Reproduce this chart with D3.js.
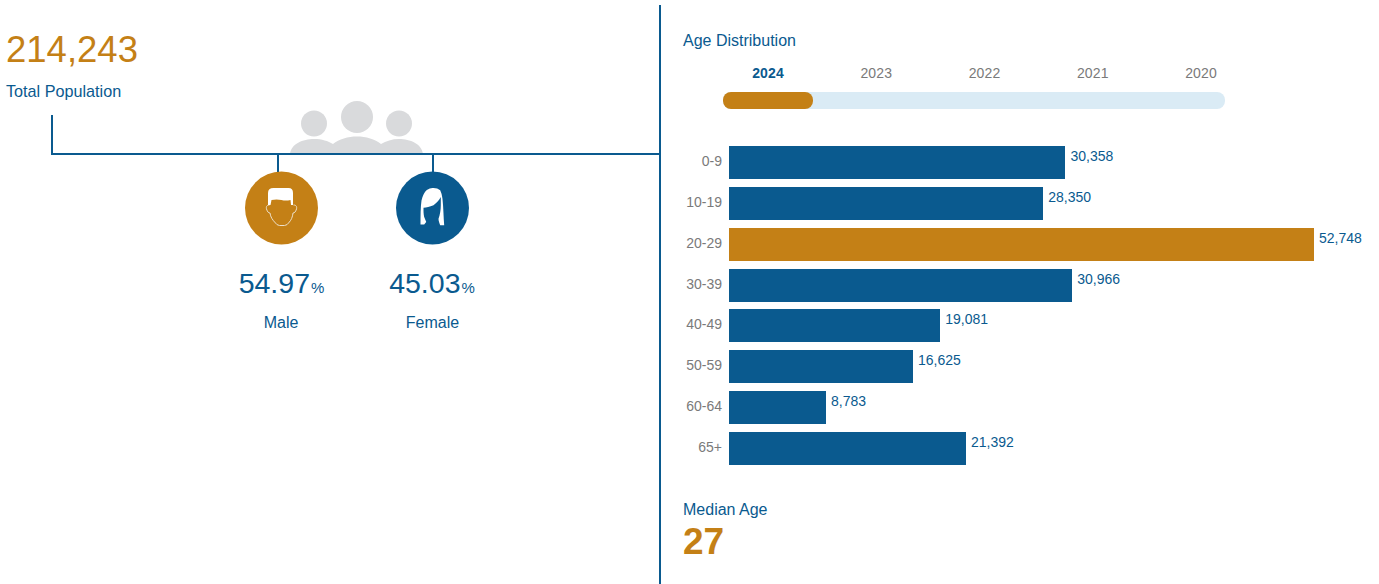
<!DOCTYPE html>
<html>
<head>
<meta charset="utf-8">
<script src="https://cdn.jsdelivr.net/npm/d3@7"></script>
<style>
    body { margin: 0; background: #fff; }
    svg { display: block; }
    text { font-family: "Liberation Sans", Arial, sans-serif; }
    .axis .domain { display: none; }
</style>
</head>
<body>
<svg id="chart"></svg>
<script>
const ageGroups = ['0-9', '10-19', '20-29', '30-39', '40-49', '50-59', '60-64', '65+']
const ageValues = [30358, 28350, 52748, 30966, 19081, 16625, 8783, 21392]
const years = ['2024', '2023', '2022', '2021', '2020']
const genderLabels = ['Male', 'Female']
const genderShares = [54.97, 45.03]
const totalPopulation = 214243
const medianAge = 27
const selectedYear = '2024'

const blue = '#0a5a8f'
const orange = '#c48016'
const grey = '#7a7a7a'

const svg = d3.select('#chart').attr('width', 1379).attr('height', 584)
const fmt = d3.format(',')

function label(x, y, txt, size, color, anchor, weight) {
    return svg.append('text')
        .attr('x', x).attr('y', y)
        .attr('font-size', size)
        .attr('fill', color)
        .attr('text-anchor', anchor || 'start')
        .attr('font-weight', weight || 'normal')
        .text(txt)
}

// left panel
label(6, 62, fmt(totalPopulation), 36.5, orange)
label(6, 97, 'Total Population', 16.2, blue)

// people icon behind the connector
const people = svg.append('g').attr('fill', '#d9dadc')
people.append('circle').attr('cx', 314).attr('cy', 123.5).attr('r', 13)
people.append('circle').attr('cx', 357).attr('cy', 117).attr('r', 16)
people.append('circle').attr('cx', 399).attr('cy', 123.5).attr('r', 13)
people.append('path').attr('d',
    'M290,154 C291,144 303,139 314,139 C322,139 328,141 333,144 C339,139 348,136.5 357,136.5 C366,136.5 375,139 381,144 C386,141 392,139 399,139 C410,139 422,144 423,154 Z')

// connector lines
const connector = svg.append('g').attr('stroke', blue).attr('stroke-width', 2).attr('fill', 'none')
connector.append('path').attr('d', 'M52,115 V154 H660')
connector.append('path').attr('d', 'M660,5 V584')

const genderX = d3.scalePoint().domain(genderLabels).range([281.5, 432.5])
const dropX = { Male: 278, Female: 433 }

genderLabels.forEach((g, i) => {
    const cx = genderX(g)
    connector.append('path').attr('d', `M${dropX[g]},154 V172`)
    svg.append('circle')
        .attr('cx', cx).attr('cy', 208).attr('r', 36.5)
        .attr('fill', i === 0 ? orange : blue)

    const share = label(cx + (i === 0 ? 0 : -0.5), 292.5, genderShares[i].toFixed(2), 28.5, blue, 'middle')
    share.append('tspan').attr('font-size', 15).attr('dx', 1).text('%')
    label(g === 'Male' ? 281 : 432.5, 328, g, 16, blue, 'middle')
})

// male head
const male = svg.append('g').attr('transform', `translate(${genderX('Male')},208)`)
male.append('path')
    .attr('fill', 'none').attr('stroke', '#ecdfc8').attr('stroke-width', 1)
    .attr('d', 'M-12,-3 C-15,-3 -15.5,-1 -15,1 C-14,4 -13,5 -11.5,5 C-11,9 -9,12 -6,15 Q-5,17 -2,17.5 L3,17.5 Q6,17 7,15 C10,12 11,9 11.5,5 C13,5 14,4 15,1 C15.5,-1 15,-3 12,-3')
male.append('path')
    .attr('fill', '#fff')
    .attr('d', 'M-13.5,-3 L-13.5,-15 Q-13.5,-20 -8,-20 L7,-20 Q11.5,-20 11.5,-15 L11.5,-3 L9.5,-3 L9,-8 Q4,-7 0,-8 Q-5,-9 -10,-8 L-11,-3 Z')

// female head
const female = svg.append('g').attr('transform', `translate(${genderX('Female')},208)`)
female.append('path')
    .attr('fill', '#fff')
    .attr('d', 'M-12,16.5 C-12,8 -12,-1 -11,-7.5 C-10,-12 -8,-16 -5.7,-18 Q-2,-20.5 1,-20 Q5,-20 7.7,-17.7 Q9.5,-14 10,-9.3 C11,0 11,9 11.7,17.3 L7.7,17.3 C7,15 6,13 6,10.7 C7.5,7 8.3,2 8.3,-2.7 L8.3,-11 C6,-7 4,-5 1,-2.7 C-3,-1 -6,-0.5 -9,-0.3 C-9,3 -9,6 -8.3,9 C-7.5,11 -6.5,13 -6.3,14 L-8.3,16.5 Z')

// right panel
label(683, 46, 'Age Distribution', 16, blue)

const yearScale = d3.scalePoint().domain(years).range([767.5, 1200.5])
const yearAxis = svg.append('g')
    .attr('class', 'axis year-axis')
    .attr('transform', 'translate(0,78)')
    .call(d3.axisTop(yearScale).tickSize(0).tickPadding(0))
yearAxis.selectAll('text')
    .attr('font-size', 14)
    .attr('font-family', null)
    .attr('letter-spacing', 0.1)
    .attr('fill', d => d === selectedYear ? blue : grey)
    .attr('font-weight', d => d === selectedYear ? 'bold' : 'normal')

svg.append('rect')
    .attr('x', 723).attr('y', 92).attr('width', 502).attr('height', 17).attr('rx', 8)
    .attr('fill', '#daebf5')
svg.append('rect')
    .attr('x', yearScale(selectedYear) - 44.5).attr('y', 92).attr('width', 90).attr('height', 17).attr('rx', 8)
    .attr('fill', orange)

// bars
const xScale = d3.scaleLinear()
    .domain([0, d3.max(ageValues)])
    .range([728.5, 1314])

const yScale = d3.scaleBand()
    .domain(ageGroups)
    .range([146, 465])
    .paddingInner(0.193)

const rows = ageGroups.map((g, i) => ({ group: g, value: ageValues[i] }))
const peak = d3.max(ageValues)

svg.selectAll('.bar')
    .data(rows)
    .join('rect')
        .attr('class', 'bar')
        .attr('x', xScale(0))
        .attr('y', d => yScale(d.group))
        .attr('width', d => xScale(d.value) - xScale(0))
        .attr('height', yScale.bandwidth())
        .attr('shape-rendering', 'crispEdges')
        .attr('fill', d => d.value === peak ? orange : blue)

svg.selectAll('.bar-label')
    .data(rows)
    .join('text')
        .attr('class', 'bar-label')
        .attr('x', d => xScale(d.value) + 5)
        .attr('y', d => yScale(d.group) + 15)
        .attr('font-size', 14)
        .attr('fill', blue)
        .text(d => fmt(d.value))

const ageAxis = svg.append('g')
    .attr('class', 'axis age-axis')
    .attr('transform', 'translate(722,-1)')
    .call(d3.axisLeft(yScale).tickSize(0).tickPadding(0))
ageAxis.selectAll('text')
    .attr('font-size', 14)
    .attr('font-family', null)
    .attr('fill', grey)

label(683, 515, 'Median Age', 16, blue)
label(683, 554, medianAge, 37, orange, 'start', 'bold')
</script>
</body>
</html>
